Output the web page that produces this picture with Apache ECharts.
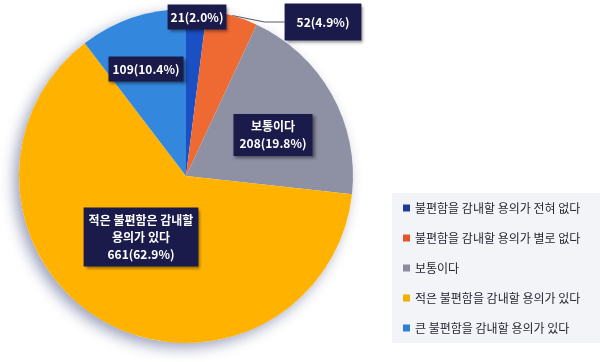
<!DOCTYPE html>
<html><head><meta charset="utf-8">
<script src="https://cdn.jsdelivr.net/npm/echarts@6/dist/echarts.min.js"></script>
<style>html,body{margin:0;padding:0;background:#fff}#c{width:600px;height:362px}</style>
</head><body><div id="c"></div>
<script>
var categories = ['불편함을 감내할 용의가 전혀 없다','불편함을 감내할 용의가 별로 없다','보통이다','적은 불편함을 감내할 용의가 있다','큰 불편함을 감내할 용의가 있다'];
var values = [21, 52, 208, 661, 109];
var labelTitles = ['', '', '보통이다', '적은 불편함은 감내할\n용의가 있다', ''];
var sliceColors = ['#1b4fc4', '#ef6a32', '#8e90a4', '#ffb300', '#3388dd'];
var legendColors = ['#1f3a9a', '#e2552b', '#8a8b9c', '#f0b000', '#2f80d2'];

var labelPos = [[197,17],[323,22],[273,135],[141,237],[146,69]];
var labelPad = [[4,3],[10,12],[4,6],[4,5],[4,4]];

var chart = echarts.init(document.getElementById('c'));
var data = categories.map(function(n,i){
  return {
    name: n, value: values[i],
    itemStyle: {color: sliceColors[i]},
    label: {padding: labelPad[i], position: i===1 ? 'outside' : 'inside'},
    labelLine: {show: i===1}
  };
});
chart.setOption({
  backgroundColor: '#fff',
  animation: false,
  legend: {
    orient: 'vertical', left: 392, top: 193,
    width: 200,
    padding: [8, 8, 8, 11],
    backgroundColor: '#f3f4f8',
    itemWidth: 7, itemHeight: 7, itemGap: 16,
    icon: 'rect',
    textStyle: {fontSize: 12, color: '#262633', lineHeight: 14, fontFamily: 'Noto Sans CJK KR', width: 178},
    data: categories.map(function(n,i){return {name:n, itemStyle:{color: legendColors[i]}};})
  },
  series: [{
    type: 'pie', silent: true, z: 1,
    center: [186, 176], radius: 167,
    label: {show: false}, labelLine: {show: false},
    itemStyle: {color: '#fff', shadowBlur: 14, shadowOffsetX: -5, shadowOffsetY: 5, shadowColor: 'rgba(40,50,110,0.45)'},
    data: [{value: 1, name: '_bg'}]
  },{
    type: 'pie', z: 2,
    center: [186, 176], radius: 167,
    startAngle: 90, clockwise: true,
    percentPrecision: 1,
    avoidLabelOverlap: false,
    itemStyle: {borderWidth: 0},
    label: {
      show: true,
      formatter: function(p){
        var t = labelTitles[p.dataIndex];
        return (t ? t + '\n' : '') + p.value + '(' + p.percent.toFixed(1) + '%)';
      },
      color: '#fff', fontWeight: 'bold', fontSize: 12, lineHeight: 17,
      fontFamily: 'Noto Sans CJK KR',
      backgroundColor: '#1b1b4b', align: 'center',
      shadowBlur: 3, shadowOffsetX: 2, shadowOffsetY: 2, shadowColor: 'rgba(0,0,0,0.45)'
    },
    labelLine: {lineStyle: {color: '#555a66', width: 1}, length: 20, length2: 20},
    labelLayout: function(p){
      var q = labelPos[p.dataIndex];
      return {x: q[0], y: q[1], align: 'center', verticalAlign: 'middle'};
    },
    data: data
  }]
});
</script></body></html>
